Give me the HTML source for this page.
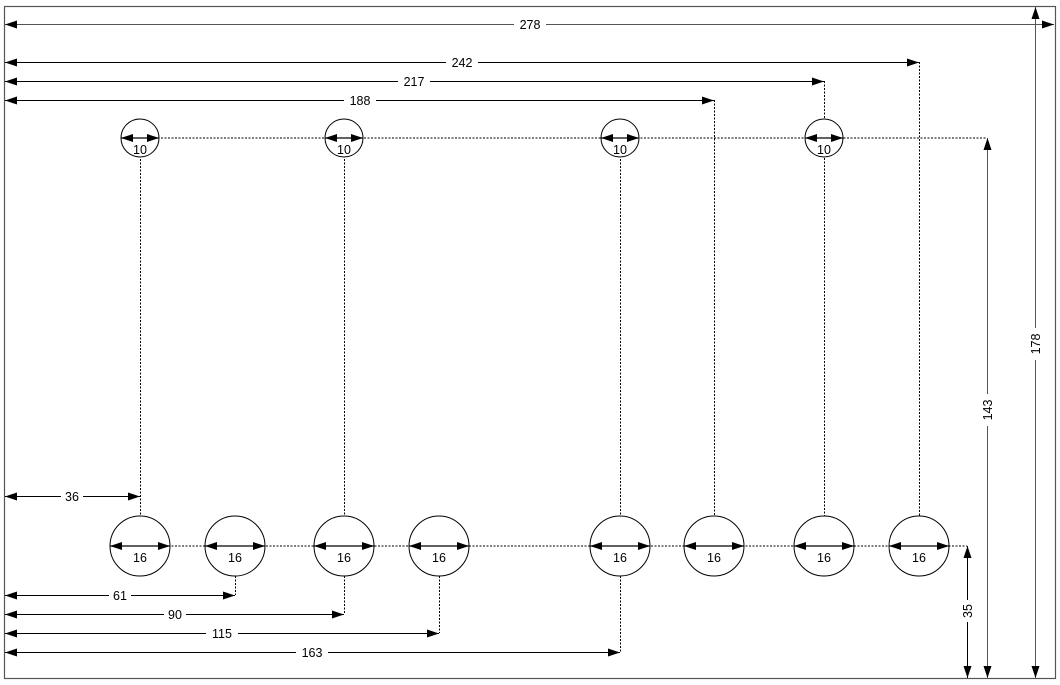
<!DOCTYPE html>
<html><head><meta charset="utf-8"><style>
html,body{margin:0;padding:0;background:#fff;}
svg{display:block;}
text{font-family:"Liberation Sans",sans-serif;font-size:12.5px;fill:#000;}
</style></head><body>
<svg width="1060" height="685" viewBox="0 0 1060 685" xmlns="http://www.w3.org/2000/svg">
<defs>
<marker id="a" viewBox="0 0 12 8" refX="12" refY="4" markerWidth="12" markerHeight="8" markerUnits="userSpaceOnUse" orient="auto-start-reverse"><path d="M0,0 L12,4 L0,8 z" fill="#000"/></marker>
</defs>
<rect x="4.5" y="6.5" width="1051" height="672" fill="none" stroke="#555" stroke-width="1.2"/>
<g stroke="#000" stroke-width="1" stroke-dasharray="2,1.5" fill="none">
<line x1="140" y1="138" x2="987" y2="138"/>
<line x1="140" y1="546" x2="967" y2="546"/>
<line x1="140.5" y1="138" x2="140.5" y2="516"/>
<line x1="344.5" y1="138" x2="344.5" y2="516"/>
<line x1="620.5" y1="138" x2="620.5" y2="516"/>
<line x1="824.5" y1="81" x2="824.5" y2="516"/>
<line x1="714.5" y1="100" x2="714.5" y2="516"/>
<line x1="919.5" y1="62" x2="919.5" y2="516"/>
<line x1="235.5" y1="576" x2="235.5" y2="595"/>
<line x1="344.5" y1="576" x2="344.5" y2="614"/>
<line x1="439.5" y1="576" x2="439.5" y2="633"/>
<line x1="620.5" y1="576" x2="620.5" y2="652"/>
</g>
<g fill="#fff" stroke="#000" stroke-width="1">
<circle cx="140" cy="138" r="19"/><circle cx="344" cy="138" r="19"/>
<circle cx="620" cy="138" r="19"/><circle cx="824" cy="138" r="19"/>
<circle cx="140" cy="546" r="30"/><circle cx="235" cy="546" r="30"/>
<circle cx="344" cy="546" r="30"/><circle cx="439" cy="546" r="30"/>
<circle cx="620" cy="546" r="30"/><circle cx="714" cy="546" r="30"/>
<circle cx="824" cy="546" r="30"/><circle cx="919" cy="546" r="30"/>
</g>
<g stroke="#000" stroke-width="1.2" marker-start="url(#a)" marker-end="url(#a)">
<line x1="121" y1="138" x2="159" y2="138"/><line x1="325" y1="138" x2="363" y2="138"/>
<line x1="601" y1="138" x2="639" y2="138"/><line x1="805" y1="138" x2="843" y2="138"/>
<line x1="110" y1="546" x2="170" y2="546"/><line x1="205" y1="546" x2="265" y2="546"/>
<line x1="314" y1="546" x2="374" y2="546"/><line x1="409" y1="546" x2="469" y2="546"/>
<line x1="590" y1="546" x2="650" y2="546"/><line x1="684" y1="546" x2="744" y2="546"/>
<line x1="794" y1="546" x2="854" y2="546"/><line x1="889" y1="546" x2="949" y2="546"/>
</g>
<g stroke="#000" stroke-width="1" marker-start="url(#a)" marker-end="url(#a)">
<line x1="5" y1="24.5" x2="1054" y2="24.5" stroke="#555"/>
<line x1="5" y1="62.5" x2="919" y2="62.5"/>
<line x1="5" y1="81.5" x2="824" y2="81.5"/>
<line x1="5" y1="100.5" x2="714" y2="100.5"/>
<line x1="5" y1="496.5" x2="140" y2="496.5"/>
<line x1="5" y1="595.5" x2="235" y2="595.5"/>
<line x1="5" y1="614.5" x2="344" y2="614.5"/>
<line x1="5" y1="633.5" x2="439" y2="633.5"/>
<line x1="5" y1="652.5" x2="620" y2="652.5"/>
<line x1="1035.5" y1="7" x2="1035.5" y2="678" stroke="#555"/>
<line x1="987.5" y1="138" x2="987.5" y2="678" stroke="#555"/>
<line x1="967.5" y1="546" x2="967.5" y2="678"/>
</g>
<g text-anchor="middle">
<rect x="514" y="16" width="32" height="16" fill="#fff"/><text x="530" y="29">278</text>
<rect x="446" y="54" width="32" height="16" fill="#fff"/><text x="462" y="67">242</text>
<rect x="398" y="73" width="32" height="16" fill="#fff"/><text x="414" y="86">217</text>
<rect x="344" y="92" width="32" height="16" fill="#fff"/><text x="360" y="105">188</text>
<rect x="61" y="488" width="22" height="16" fill="#fff"/><text x="72" y="501">36</text>
<rect x="109" y="587" width="22" height="16" fill="#fff"/><text x="120" y="600">61</text>
<rect x="164" y="606" width="22" height="16" fill="#fff"/><text x="175" y="619">90</text>
<rect x="206" y="625" width="32" height="16" fill="#fff"/><text x="222" y="638">115</text>
<rect x="296" y="644" width="32" height="16" fill="#fff"/><text x="312" y="657">163</text>
<text x="140" y="154">10</text><text x="344" y="154">10</text>
<text x="620" y="154">10</text><text x="824" y="154">10</text>
<text x="140" y="562">16</text><text x="235" y="562">16</text>
<text x="344" y="562">16</text><text x="439" y="562">16</text>
<text x="620" y="562">16</text><text x="714" y="562">16</text>
<text x="824" y="562">16</text><text x="919" y="562">16</text>
<g transform="translate(1040,344) rotate(-90)"><rect x="-16" y="-13" width="32" height="16" fill="#fff"/><text x="0" y="0">178</text></g>
<g transform="translate(992,410) rotate(-90)"><rect x="-16" y="-13" width="32" height="16" fill="#fff"/><text x="0" y="0">143</text></g>
<g transform="translate(972,611) rotate(-90)"><rect x="-11" y="-13" width="22" height="16" fill="#fff"/><text x="0" y="0">35</text></g>
</g>
</svg>
</body></html>
